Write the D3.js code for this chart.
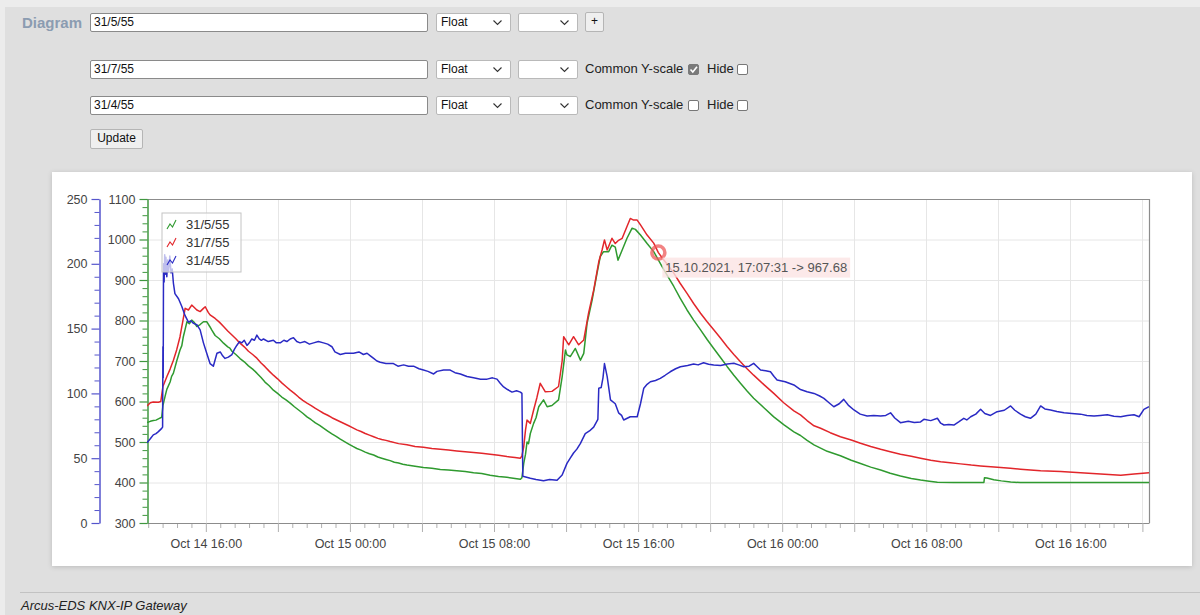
<!DOCTYPE html>
<html>
<head>
<meta charset="utf-8">
<script src="https://cdn.jsdelivr.net/npm/d3@7"></script>
<style>
  body { margin: 0; width: 1200px; height: 615px; overflow: hidden; position: relative;
         background: #ececec; font-family: "Liberation Sans", Arial, sans-serif; }
  #page { position: absolute; left: 5px; top: 7px; right: 0; bottom: 0; background: #dfdfdf; }
  #chart { position: absolute; left: 0; top: 0; }
  .ctl { position: absolute; box-sizing: border-box; font-size: 12px; color: #111; }
  .input { background: #fff; border: 1px solid #8a8a8a; border-radius: 2px; padding: 2px 3px; line-height: 13px; }
  .select { background: #fff; border: 1px solid #b9b9b9; border-radius: 2px; padding: 2px 4px; line-height: 13px; }
  .btn { background: #efefef; border: 1px solid #b5b5b5; border-radius: 2px; text-align: center; line-height: 17px; }
  .lbl { font-size: 13px; color: #222; line-height: 18px; white-space: nowrap; }
  .chk { width: 11px; height: 11px; border: 1px solid #777; border-radius: 2px; background: #fff; }
  .chk.on { background: #7a7a7a; border-color: #7a7a7a; }
  #diag { position: absolute; left: 22px; top: 14px; font-size: 15px; font-weight: bold; color: #8b9cb1; }
  #footLine { position: absolute; left: 20px; right: 0; top: 592px; height: 1px; background: #c2c2c2; }
  #foot { position: absolute; left: 21px; top: 598px; font-size: 13px; font-style: italic; color: #222; }
</style>
</head>
<body>
<div id="page"></div>
<svg id="chart" width="1200" height="615"></svg>
<div id="diag">Diagram</div>
<div id="form"></div>
<div id="footLine"></div>
<div id="foot">Arcus-EDS KNX-IP Gateway</div>
<script>
// ---- data ----
const seriesNames = ['31/5/55', '31/7/55', '31/4/55'];
const seriesColors = ['#2f9a2f', '#e2262b', '#2a2ac4'];
const commonScale = [null, true, false];
const mainTicks = [300, 400, 500, 600, 700, 800, 900, 1000, 1100];
const blueTicks = [0, 50, 100, 150, 200, 250];

// 31/5/55 (green, main axis)
const greenData = [
  ['14 12:44', 548], ['14 12:55', 551], ['14 13:05', 553], ['14 13:14', 554], ['14 13:22', 557],
  ['14 13:33', 561], ['14 13:37', 590], ['14 13:44', 612], ['14 13:50', 630], ['14 14:01', 648],
  ['14 14:06', 662], ['14 14:12', 670], ['14 14:23', 700], ['14 14:34', 727], ['14 14:40', 738],
  ['14 14:45', 760], ['14 14:51', 778], ['14 14:57', 797], ['14 15:05', 792], ['14 15:13', 801],
  ['14 15:22', 795], ['14 15:30', 785], ['14 15:41', 790], ['14 15:52', 797], ['14 16:03', 797],
  ['14 16:14', 784], ['14 16:20', 776], ['14 16:31', 763], ['14 16:45', 755], ['14 16:59', 744],
  ['14 17:13', 735], ['14 17:20', 732], ['14 17:27', 724], ['14 17:40', 716], ['14 17:54', 706],
  ['14 18:08', 698], ['14 18:22', 688], ['14 18:36', 680], ['14 18:50', 670], ['14 19:04', 659],
  ['14 19:17', 648], ['14 19:31', 639], ['14 19:45', 628], ['14 19:59', 620], ['14 20:13', 611],
  ['14 20:27', 604], ['14 20:41', 596], ['14 20:55', 587], ['14 21:09', 579], ['14 21:23', 571],
  ['14 21:37', 562], ['14 21:51', 555], ['14 22:05', 547], ['14 22:19', 541], ['14 22:32', 534],
  ['14 22:46', 527], ['14 23:00', 520], ['14 23:14', 514], ['14 23:28', 507], ['14 23:42', 501],
  ['14 23:56', 495], ['15 00:10', 489], ['15 00:23', 484], ['15 00:37', 480], ['15 00:51', 475],
  ['15 01:05', 471], ['15 01:19', 468], ['15 01:33', 463], ['15 01:46', 460], ['15 02:00', 457],
  ['15 02:14', 454], ['15 02:28', 450], ['15 02:42', 448], ['15 02:56', 445], ['15 03:10', 443],
  ['15 03:37', 440], ['15 04:05', 437], ['15 04:33', 435], ['15 05:01', 432], ['15 05:28', 431],
  ['15 05:56', 429], ['15 06:24', 427], ['15 06:52', 424], ['15 07:19', 422], ['15 07:47', 418],
  ['15 08:15', 415], ['15 08:43', 413], ['15 09:10', 410], ['15 09:28', 408], ['15 09:33', 412],
  ['15 09:39', 447], ['15 09:45', 470], ['15 09:50', 500], ['15 09:55', 496], ['15 10:01', 521],
  ['15 10:12', 546], ['15 10:20', 560], ['15 10:29', 587], ['15 10:45', 604], ['15 10:57', 587],
  ['15 11:13', 590], ['15 11:35', 604], ['15 11:47', 661], ['15 11:58', 727], ['15 12:03', 715],
  ['15 12:14', 711], ['15 12:31', 731], ['15 12:42', 712], ['15 12:48', 702], ['15 12:59', 719],
  ['15 13:10', 793], ['15 13:27', 851], ['15 13:43', 916], ['15 13:54', 958], ['15 14:05', 970],
  ['15 14:22', 970], ['15 14:33', 986], ['15 14:44', 981], ['15 14:53', 949], ['15 15:07', 974],
  ['15 15:23', 1003], ['15 15:40', 1028], ['15 15:51', 1025], ['15 16:08', 1011], ['15 16:30', 990],
  ['15 16:52', 970], ['15 17:20', 933], ['15 17:40', 908], ['15 17:59', 884], ['15 18:20', 855],
  ['15 18:43', 826], ['15 19:05', 801], ['15 19:28', 777], ['15 19:50', 753], ['15 20:12', 731],
  ['15 20:35', 708], ['15 20:57', 686], ['15 21:19', 665], ['15 21:41', 645], ['15 22:03', 626],
  ['15 22:25', 608], ['15 23:00', 584], ['15 23:32', 562], ['16 00:05', 543], ['16 00:39', 525],
  ['16 01:01', 516], ['16 01:23', 504], ['16 01:46', 493], ['16 02:08', 485], ['16 02:30', 477],
  ['16 03:14', 466], ['16 03:50', 455], ['16 04:21', 447], ['16 04:55', 438], ['16 05:28', 431],
  ['16 06:00', 423], ['16 06:34', 416], ['16 07:10', 410], ['16 07:41', 406], ['16 08:10', 403],
  ['16 08:37', 400.4], ['16 09:30', 400], ['16 10:30', 400], ['16 11:12', 400], ['16 11:14', 412],
  ['16 11:22', 411], ['16 11:45', 407], ['16 12:10', 404], ['16 12:41', 401], ['16 13:14', 400],
  ['16 15:00', 400], ['16 17:00', 400], ['16 20:22', 400]
];

// 31/7/55 (red, common Y-scale)
const redData = [
  ['14 12:44', 589], ['14 12:55', 597], ['14 13:05', 599], ['14 13:22', 598], ['14 13:30', 600],
  ['14 13:37', 637], ['14 13:50', 661], ['14 14:01', 680], ['14 14:12', 702], ['14 14:23', 728],
  ['14 14:34', 760], ['14 14:45', 805], ['14 14:51', 830], ['14 15:02', 826], ['14 15:13', 838],
  ['14 15:19', 834], ['14 15:30', 826], ['14 15:41', 822], ['14 15:52', 830], ['14 15:58', 834],
  ['14 16:08', 820], ['14 16:14', 814], ['14 16:31', 805], ['14 16:45', 796], ['14 16:59', 785],
  ['14 17:13', 774], ['14 17:27', 764], ['14 17:40', 755], ['14 17:54', 744], ['14 18:08', 735],
  ['14 18:22', 724], ['14 18:36', 716], ['14 18:50', 707], ['14 19:04', 695], ['14 19:17', 686],
  ['14 19:31', 675], ['14 19:45', 665], ['14 19:59', 656], ['14 20:13', 646], ['14 20:27', 637],
  ['14 20:41', 628], ['14 20:55', 620], ['14 21:09', 611], ['14 21:23', 603], ['14 21:37', 596],
  ['14 21:51', 590], ['14 22:05', 583], ['14 22:19', 577], ['14 22:32', 571], ['14 22:46', 566],
  ['14 23:00', 560], ['14 23:14', 555], ['14 23:28', 550], ['14 23:42', 545], ['14 23:56', 540],
  ['15 00:10', 535], ['15 00:23', 530], ['15 00:37', 526], ['15 00:51', 521], ['15 01:05', 517],
  ['15 01:19', 513], ['15 01:33', 509], ['15 01:46', 506], ['15 02:00', 504], ['15 02:14', 501],
  ['15 02:42', 496], ['15 03:10', 493], ['15 03:37', 489], ['15 04:05', 487], ['15 04:33', 484],
  ['15 05:01', 482], ['15 05:28', 480], ['15 05:56', 478], ['15 06:24', 476], ['15 06:52', 474],
  ['15 07:19', 472], ['15 07:47', 470], ['15 08:15', 467], ['15 08:43', 464], ['15 09:10', 462],
  ['15 09:28', 460], ['15 09:33', 466], ['15 09:39', 488], ['15 09:45', 530], ['15 09:50', 554],
  ['15 10:01', 546], ['15 10:12', 579], ['15 10:23', 610], ['15 10:34', 645], ['15 10:51', 624],
  ['15 11:13', 625], ['15 11:35', 637], ['15 11:47', 700], ['15 11:52', 760], ['15 12:09', 740],
  ['15 12:25', 760], ['15 12:42', 740], ['15 12:59', 752], ['15 13:15', 818], ['15 13:32', 875],
  ['15 13:49', 945], ['15 14:00', 974], ['15 14:08', 999], ['15 14:17', 974], ['15 14:33', 1003],
  ['15 14:44', 990], ['15 14:55', 998], ['15 15:07', 1003], ['15 15:23', 1032], ['15 15:34', 1052],
  ['15 15:45', 1048], ['15 15:57', 1048], ['15 16:08', 1036], ['15 16:30', 1011], ['15 16:52', 991],
  ['15 17:07:31', 967.68], ['15 17:20', 955], ['15 17:40', 936], ['15 17:59', 917], ['15 18:20', 892],
  ['15 18:43', 867], ['15 19:05', 842], ['15 19:28', 818], ['15 19:50', 797], ['15 20:12', 777],
  ['15 20:35', 756], ['15 20:57', 735], ['15 21:19', 716], ['15 21:41', 698], ['15 22:03', 681],
  ['15 22:25', 665], ['15 23:00', 641], ['15 23:32', 620], ['16 00:05', 597], ['16 00:39', 577],
  ['16 01:01', 567], ['16 01:23', 553], ['16 01:46', 540], ['16 02:08', 534], ['16 02:40', 523],
  ['16 03:14', 513], ['16 03:50', 505], ['16 04:21', 497], ['16 04:55', 489], ['16 05:28', 482],
  ['16 06:00', 476], ['16 06:34', 470], ['16 07:10', 465], ['16 07:41', 460], ['16 08:15', 455],
  ['16 08:48', 451], ['16 09:20', 449], ['16 09:54', 446], ['16 10:30', 443], ['16 11:01', 441],
  ['16 11:35', 439], ['16 12:08', 437], ['16 12:40', 435], ['16 13:14', 433], ['16 13:47', 431],
  ['16 14:21', 429], ['16 15:28', 427], ['16 16:34', 424], ['16 17:41', 421], ['16 18:48', 418],
  ['16 19:32', 421], ['16 20:22', 424]
];

// 31/4/55 (blue, own Y-scale 0..250)
const blueData = [
  ['14 12:44', 62], ['14 12:55', 65], ['14 13:05', 68], ['14 13:14', 69], ['14 13:22', 70.5],
  ['14 13:33', 73], ['14 13:36', 74], ['14 13:37', 136], ['14 13:38', 112], ['14 13:39', 200],
  ['14 13:41', 186], ['14 13:43', 207], ['14 13:45', 192], ['14 13:47', 205], ['14 13:50', 190],
  ['14 13:53', 203], ['14 13:56', 194], ['14 14:00', 206], ['14 14:04', 193], ['14 14:08', 196],
  ['14 14:12', 185], ['14 14:17', 177], ['14 14:29', 173], ['14 14:40', 167], ['14 14:51', 160],
  ['14 15:02', 155], ['14 15:10', 156], ['14 15:19', 154], ['14 15:30', 153], ['14 15:41', 149],
  ['14 15:52', 139], ['14 16:03', 131], ['14 16:14', 123], ['14 16:25', 121], ['14 16:37', 131],
  ['14 16:48', 132], ['14 16:56', 129], ['14 17:04', 127], ['14 17:15', 128], ['14 17:27', 130],
  ['14 17:35', 134], ['14 17:43', 137], ['14 17:52', 140], ['14 18:00', 139], ['14 18:08', 141],
  ['14 18:17', 137], ['14 18:25', 139], ['14 18:33', 142], ['14 18:42', 141], ['14 18:50', 145],
  ['14 18:58', 142], ['14 19:05', 141], ['14 19:12', 142], ['14 19:28', 140], ['14 19:45', 141],
  ['14 19:55', 139], ['14 20:08', 139], ['14 20:20', 141], ['14 20:30', 140], ['14 20:41', 142],
  ['14 20:52', 143], ['14 21:03', 140], ['14 21:14', 139], ['14 21:30', 140], ['14 21:45', 138],
  ['14 21:59', 139], ['14 22:15', 140], ['14 22:32', 139], ['14 22:46', 138], ['14 23:00', 136],
  ['14 23:10', 132], ['14 23:28', 130], ['14 23:45', 131], ['15 00:12', 131], ['15 00:30', 132],
  ['15 00:45', 130], ['15 00:57', 131], ['15 01:08', 129], ['15 01:19', 127], ['15 01:30', 125],
  ['15 01:41', 124], ['15 02:00', 123], ['15 02:25', 123], ['15 02:40', 121], ['15 02:59', 122],
  ['15 03:15', 121], ['15 03:32', 121], ['15 03:50', 119], ['15 04:05', 118], ['15 04:20', 117],
  ['15 04:39', 115], ['15 04:50', 117], ['15 05:12', 118], ['15 05:34', 118], ['15 05:50', 116],
  ['15 06:08', 115], ['15 06:30', 113], ['15 06:52', 112], ['15 07:15', 111], ['15 07:37', 111],
  ['15 07:55', 112], ['15 08:10', 111], ['15 08:20', 108], ['15 08:32', 105], ['15 08:45', 103],
  ['15 09:00', 101], ['15 09:15', 102], ['15 09:28', 101], ['15 09:33', 100], ['15 09:36', 36],
  ['15 10:01', 34.5], ['15 10:20', 33.5], ['15 10:45', 32.6], ['15 11:05', 33.5], ['15 11:30', 33],
  ['15 11:47', 37], ['15 12:03', 46], ['15 12:14', 50], ['15 12:25', 54], ['15 12:36', 57],
  ['15 12:48', 61.5], ['15 13:04', 69], ['15 13:18', 71], ['15 13:32', 74], ['15 13:46', 80],
  ['15 13:49', 104], ['15 13:57', 104.5], ['15 14:03', 112], ['15 14:08', 123], ['15 14:17', 113],
  ['15 14:28', 95], ['15 14:44', 92], ['15 14:55', 85], ['15 15:05', 83], ['15 15:12', 79.5],
  ['15 15:34', 82], ['15 15:57', 82], ['15 16:08', 92], ['15 16:19', 104], ['15 16:30', 107],
  ['15 16:41', 109], ['15 16:58', 110], ['15 17:14', 111.6], ['15 17:30', 114], ['15 17:47', 116.7],
  ['15 18:05', 119], ['15 18:21', 120.6], ['15 18:45', 121.5], ['15 19:05', 122.7], ['15 19:20', 122],
  ['15 19:38', 123.7], ['15 19:55', 122.5], ['15 20:12', 122], ['15 20:35', 121.5], ['15 20:57', 122.7],
  ['15 21:19', 123.2], ['15 21:35', 122], ['15 21:52', 120.6], ['15 22:10', 121], ['15 22:25', 123.2],
  ['15 22:35', 121], ['15 22:48', 118], ['15 23:05', 117.5], ['15 23:21', 116.7], ['15 23:33', 113],
  ['15 23:43', 110.3], ['16 00:10', 109], ['16 00:39', 106.5], ['16 01:01', 103], ['16 01:23', 101.3],
  ['16 01:46', 100], ['16 02:05', 98], ['16 02:19', 96.2], ['16 02:35', 93], ['16 02:52', 89.7],
  ['16 03:10', 92], ['16 03:25', 95.4], ['16 03:40', 91], ['16 03:59', 87.2], ['16 04:20', 84],
  ['16 04:43', 82.6], ['16 05:05', 83], ['16 05:28', 82.6], ['16 05:45', 83], ['16 06:01', 85],
  ['16 06:15', 81], ['16 06:34', 77.4], ['16 07:00', 78.5], ['16 07:20', 77.6], ['16 07:41', 78],
  ['16 07:52', 80], ['16 08:15', 79], ['16 08:37', 80.8], ['16 08:48', 77], ['16 08:59', 75.6],
  ['16 09:15', 76], ['16 09:32', 75.6], ['16 09:48', 78], ['16 10:05', 80.8], ['16 10:15', 79.5],
  ['16 10:28', 82], ['16 10:45', 84], ['16 11:01', 87.7], ['16 11:15', 84.5], ['16 11:34', 83],
  ['16 11:56', 85.9], ['16 12:20', 87], ['16 12:41', 90.3], ['16 12:55', 87], ['16 13:14', 84],
  ['16 13:30', 82], ['16 13:47', 80.8], ['16 14:05', 84], ['16 14:21', 90.3], ['16 14:35', 88],
  ['16 14:54', 87.2], ['16 15:15', 86], ['16 15:39', 85], ['16 16:05', 84.5], ['16 16:34', 84],
  ['16 16:55', 83], ['16 17:19', 82.6], ['16 17:40', 83], ['16 18:03', 83.5], ['16 18:25', 82.3],
  ['16 18:48', 82], ['16 19:10', 83], ['16 19:32', 83.5], ['16 19:49', 82], ['16 20:05', 87.7],
  ['16 20:22', 89.7]
];

// hovered point shown by the tooltip
const hoverPoint = ['15 17:07:31', 967.68];

// ---- helpers ----
const parseFull = d3.timeParse('%Y-%m-%d %H:%M:%S');
const parseT = s => parseFull('2021-10-' + s + (s.length === 8 ? ':00' : ''));
const toPts = arr => arr.map(d => ({ t: parseT(d[0]), v: d[1] }));
const series = [toPts(greenData), toPts(redData), toPts(blueData)];
const fontFamily = '"Liberation Sans", Arial, sans-serif';

// ---- form (top of the page) ----
const rowTops = [13, 60, 96];
const form = d3.select('#form');
const rows = form.selectAll('div.row').data(seriesNames).enter().append('div').attr('class', 'row');
const chevron = '<svg width="9" height="6" style="position:absolute;right:8px;top:6px"><path d="M0.5,0.5 L4.5,4.5 L8.5,0.5" fill="none" stroke="#333" stroke-width="1.1"/></svg>';

rows.each(function (name, i) {
  const row = d3.select(this);
  const top = rowTops[i];
  row.append('div').attr('class', 'ctl input')
    .style('left', '90px').style('top', top + 'px').style('width', '338px').style('height', '19px')
    .text(name);
  row.append('div').attr('class', 'ctl select')
    .style('left', '436px').style('top', top + 'px').style('width', '75px').style('height', '19px')
    .html('Float' + chevron);
  row.append('div').attr('class', 'ctl select')
    .style('left', '518px').style('top', top + 'px').style('width', '60px').style('height', '19px')
    .html(chevron);
  if (i === 0) {
    row.append('div').attr('class', 'ctl btn')
      .style('left', '585px').style('top', (top - 1) + 'px').style('width', '19px').style('height', '20px')
      .text('+');
  } else {
    row.append('div').attr('class', 'ctl lbl')
      .style('left', '585px').style('top', top + 'px').text('Common Y-scale');
    row.append('div').attr('class', 'ctl chk' + (commonScale[i] ? ' on' : ''))
      .style('left', '688px').style('top', (top + 4) + 'px')
      .html(commonScale[i] ? '<svg width="9" height="9" style="position:absolute;left:0;top:0"><path d="M1.5,4.5 L3.8,7 L8,1.8" fill="none" stroke="#fff" stroke-width="1.6"/></svg>' : '');
    row.append('div').attr('class', 'ctl lbl')
      .style('left', '707px').style('top', top + 'px').text('Hide');
    row.append('div').attr('class', 'ctl chk')
      .style('left', '737px').style('top', (top + 4) + 'px');
  }
});
form.append('div').attr('class', 'ctl btn')
  .style('left', '90px').style('top', '129px').style('width', '53px').style('height', '20px')
  .text('Update');

// ---- chart ----
const svg = d3.select('#chart');
const defs = svg.append('defs');
defs.append('filter').attr('id', 'shadow')
  .attr('x', '-2%').attr('y', '-4%').attr('width', '104%').attr('height', '108%')
  .append('feDropShadow')
  .attr('dx', 0).attr('dy', 1).attr('stdDeviation', 2.5)
  .attr('flood-color', '#000').attr('flood-opacity', 0.16);
defs.append('clipPath').attr('id', 'plotClip')
  .append('rect').attr('x', 147).attr('y', 198).attr('width', 1002).attr('height', 326);

svg.append('rect')
  .attr('x', 52).attr('y', 172).attr('width', 1140).attr('height', 394)
  .attr('fill', '#fff').attr('filter', 'url(#shadow)');

const plot = { left: 147, right: 1149, top: 199, bottom: 523 };
const allTimes = series.flat().map(d => d.t);
const x = d3.scaleTime().domain(d3.extent(allTimes)).range([plot.left, plot.right]);
const yMain = d3.scaleLinear().domain([300, 1100]).range([plot.bottom, plot.top]);
const yBlue = d3.scaleLinear().domain([0, 250]).range([plot.bottom, plot.top]);
const yScales = [yMain, yMain, yBlue];

const gridColor = '#e6e6e6';
const fourHours = d3.timeHour.every(4).range(x.domain()[0], x.domain()[1]);

// grid
const grid = svg.append('g').attr('class', 'grid');
grid.selectAll('line.h').data(mainTicks.slice(1, -1)).enter().append('line')
  .attr('x1', plot.left).attr('x2', plot.right)
  .attr('y1', d => yMain(d) + 0.5).attr('y2', d => yMain(d) + 0.5)
  .attr('stroke', gridColor);
grid.selectAll('line.v').data(fourHours).enter().append('line')
  .attr('x1', d => Math.round(x(d)) + 0.5).attr('x2', d => Math.round(x(d)) + 0.5)
  .attr('y1', plot.top).attr('y2', plot.bottom)
  .attr('stroke', gridColor);

// plot frame (top + right)
svg.append('path')
  .attr('d', `M${plot.left},${plot.top + 0.5}H${plot.right + 0.5}V${plot.bottom}`)
  .attr('fill', 'none').attr('stroke', '#8c8c8c').attr('stroke-width', 1.2);

// x axis: minor ticks every 48 min, major every 4 h, labels every 8 h
const axisGray = '#8c8c8c';
const minorX = [];
d3.timeHour.every(4).range(d3.timeHour.offset(x.domain()[0], -4), x.domain()[1]).forEach(t => {
  for (let k = 1; k < 5; k++) minorX.push(d3.timeMinute.offset(t, 48 * k));
});
const xMinor = svg.append('g').attr('transform', `translate(0,${plot.bottom})`)
  .call(d3.axisBottom(x).tickValues(minorX.filter(t => x(t) > plot.left && x(t) < plot.right))
    .tickSize(5).tickSizeOuter(0).tickFormat(''));
xMinor.select('.domain').remove();
xMinor.selectAll('line').attr('stroke', '#b0b0b0');

const xMajor = svg.append('g').attr('transform', `translate(0,${plot.bottom})`)
  .call(d3.axisBottom(x).tickValues(fourHours).tickSize(9).tickSizeOuter(0)
    .tickFormat(d => d.getHours() % 8 === 0 ? d3.timeFormat('%b %d %H:%M')(d) : ''));
xMajor.select('.domain').attr('stroke', axisGray).attr('stroke-width', 1.2);
xMajor.selectAll('line').attr('stroke', '#b0b0b0');
xMajor.selectAll('text').attr('fill', '#444').attr('dy', '1.05em')
  .style('font-size', '12.5px').style('font-family', fontFamily);

// y axes
function yAxis(scale, xPos, color, ticks, minorStep) {
  const minorVals = d3.range(scale.domain()[0], scale.domain()[1] + 0.001, minorStep)
    .filter(v => !ticks.includes(v));
  const gMinor = svg.append('g').attr('transform', `translate(${xPos},0)`)
    .call(d3.axisLeft(scale).tickValues(minorVals).tickSize(5).tickSizeOuter(0).tickFormat(''));
  gMinor.select('.domain').remove();
  gMinor.selectAll('line').attr('stroke', color);
  const g = svg.append('g').attr('transform', `translate(${xPos},0)`)
    .call(d3.axisLeft(scale).tickValues(ticks).tickSize(8).tickSizeOuter(0).tickPadding(4)
      .tickFormat(d3.format('d')));
  g.select('.domain').attr('stroke', color).attr('stroke-width', 1.5);
  g.selectAll('line').attr('stroke', color).attr('stroke-width', 1.2);
  g.selectAll('text').attr('fill', '#444')
    .style('font-size', '12.5px').style('font-family', fontFamily);
}
yAxis(yBlue, 99.5, '#5555cc', blueTicks, 10);
yAxis(yMain, 147.5, '#3f973f', mainTicks, 20);

// lines
const lines = svg.append('g').attr('clip-path', 'url(#plotClip)');
series.forEach((pts, i) => {
  const line = d3.line().x(d => x(d.t)).y(d => yScales[i](d.v));
  lines.append('path').datum(pts)
    .attr('d', line)
    .attr('fill', 'none')
    .attr('stroke', seriesColors[i])
    .attr('stroke-width', 1.5)
    .attr('stroke-linejoin', 'round');
});

// legend
const legend = svg.append('g').attr('transform', 'translate(162,213)');
legend.append('rect').attr('width', 79).attr('height', 59)
  .attr('fill', '#fff').attr('fill-opacity', 0.7)
  .attr('stroke', '#c4c4c4');
const items = legend.selectAll('g.item').data(seriesNames).enter().append('g')
  .attr('transform', (d, i) => `translate(5,${11 + i * 18})`);
items.append('path')
  .attr('d', 'M0,5 L3,0 L5.5,3 L9,-4')
  .attr('fill', 'none').attr('stroke', (d, i) => seriesColors[i]).attr('stroke-width', 1.1);
items.append('text')
  .attr('x', 19).attr('y', 5)
  .attr('fill', '#333')
  .style('font-size', '13px').style('font-family', fontFamily)
  .text(d => d);

// tooltip for hovered point
const hoverT = parseT(hoverPoint[0]);
const hx = x(hoverT), hy = yMain(hoverPoint[1]);
svg.append('circle').attr('cx', hx).attr('cy', hy).attr('r', 6.5)
  .attr('fill', 'none').attr('stroke', '#ee5a5a').attr('stroke-opacity', 0.75).attr('stroke-width', 3.5);
const tipText = d3.timeFormat('%d.%m.%Y, %H:%M:%S')(hoverT) + ' -> ' + hoverPoint[1].toFixed(2);
const tip = svg.append('g').attr('transform', `translate(${hx + 4},${hy + 5})`);
const tipLabel = tip.append('text').attr('x', 3).attr('y', 14)
  .attr('fill', '#555')
  .style('font-size', '13px').style('font-family', fontFamily)
  .text(tipText);
const bb = tipLabel.node().getBBox();
tip.insert('rect', 'text')
  .attr('x', 0).attr('y', 0).attr('width', bb.width + 6).attr('height', 20)
  .attr('fill', '#fbe3e3').attr('fill-opacity', 0.8);
</script>
</body>
</html>
